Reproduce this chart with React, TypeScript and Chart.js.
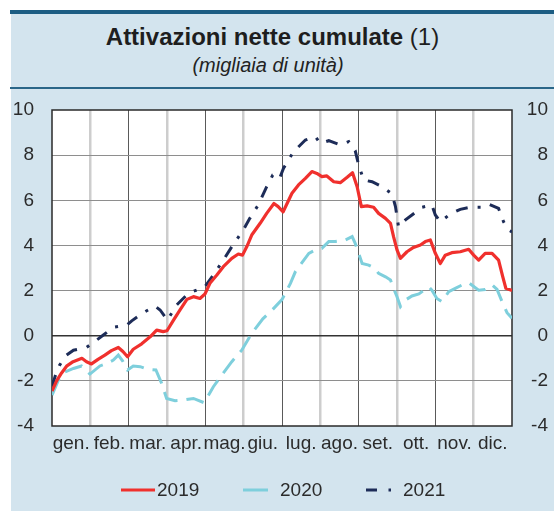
import React, { useEffect, useRef } from 'react';
import { Chart, registerables } from 'chart.js';

Chart.register(...registerables);

// ---- data ----
const months = ['gen.', 'feb.', 'mar.', 'apr.', 'mag.', 'giu.', 'lug.', 'ago.', 'set.', 'ott.', 'nov.', 'dic.'];
const seriesLabels = ['2019', '2020', '2021'];

// x positions in months (0 = start of January, 12 = end of December), values in thousands
const x2019 = [0, 0.12, 0.25, 0.38, 0.55, 0.78, 0.9, 1.03, 1.2, 1.38, 1.55, 1.73, 1.85, 1.97, 2.12, 2.34, 2.56, 2.73, 2.9, 3.0, 3.17, 3.34, 3.52, 3.69, 3.86, 3.99, 4.12, 4.3, 4.47, 4.69, 4.86, 4.97, 5.08, 5.21, 5.43, 5.6, 5.79, 5.9, 6.03, 6.26, 6.43, 6.61, 6.78, 6.91, 7.04, 7.17, 7.35, 7.52, 7.7, 7.84, 7.96, 8.07, 8.22, 8.39, 8.52, 8.7, 8.83, 8.91, 9.0, 9.09, 9.26, 9.43, 9.61, 9.74, 9.87, 10.0, 10.13, 10.26, 10.43, 10.65, 10.87, 11.0, 11.13, 11.3, 11.48, 11.65, 11.76, 11.84, 12.0];
const v2019 = [-2.45, -2.0, -1.65, -1.35, -1.15, -1.0, -1.15, -1.25, -1.05, -0.86, -0.66, -0.52, -0.7, -0.93, -0.6, -0.36, -0.05, 0.25, 0.18, 0.22, 0.69, 1.14, 1.61, 1.73, 1.65, 1.85, 2.32, 2.69, 3.06, 3.43, 3.62, 3.57, 3.94, 4.46, 4.98, 5.42, 5.86, 5.72, 5.49, 6.31, 6.68, 6.97, 7.27, 7.19, 7.05, 7.08, 6.82, 6.78, 7.02, 7.22, 6.6, 5.72, 5.75, 5.69, 5.42, 5.2, 4.98, 4.39, 3.8, 3.43, 3.72, 3.91, 4.02, 4.17, 4.24, 3.65, 3.2, 3.57, 3.68, 3.72, 3.83, 3.57, 3.35, 3.65, 3.65, 3.35, 2.61, 2.1, 2.0];

const x2020 = [0, 0.17, 0.34, 0.56, 0.77, 0.86, 0.99, 1.25, 1.43, 1.6, 1.73, 1.84, 1.97, 2.12, 2.3, 2.51, 2.71, 2.86, 2.99, 3.21, 3.43, 3.69, 3.97, 4.21, 4.43, 4.69, 4.95, 5.21, 5.5, 5.75, 6.0, 6.22, 6.35, 6.7, 6.91, 7.04, 7.22, 7.39, 7.65, 7.83, 7.91, 8.0, 8.09, 8.26, 8.43, 8.52, 8.7, 8.83, 8.91, 9.0, 9.09, 9.22, 9.39, 9.57, 9.83, 9.91, 10.04, 10.17, 10.35, 10.52, 10.7, 10.87, 11.13, 11.3, 11.48, 11.61, 11.74, 11.87, 12.0];
const v2020 = [-2.63, -1.96, -1.6, -1.45, -1.34, -1.49, -1.7, -1.34, -1.23, -1.08, -0.86, -1.11, -1.52, -1.34, -1.37, -1.49, -1.52, -2.11, -2.78, -2.88, -2.85, -2.78, -2.97, -2.26, -1.74, -1.15, -0.64, 0.1, 0.75, 1.15, 1.6, 2.32, 2.84, 3.65, 3.83, 3.87, 4.17, 4.17, 4.24, 4.39, 4.09, 3.65, 3.2, 3.13, 2.98, 2.76, 2.61, 2.47, 2.1, 1.73, 1.29, 1.58, 1.76, 1.85, 2.17, 2.02, 1.65, 1.51, 1.95, 2.1, 2.25, 2.35, 2.02, 2.05, 2.25, 2.05, 1.51, 1.02, 0.77];

const x2021 = [0, 0.1, 0.2, 0.38, 0.56, 0.9, 1.17, 1.34, 1.6, 1.95, 2.08, 2.38, 2.69, 2.82, 3.01, 3.25, 3.56, 3.82, 3.99, 4.21, 4.47, 4.69, 4.99, 5.16, 5.38, 5.58, 5.76, 5.86, 5.95, 6.04, 6.3, 6.61, 6.87, 7.0, 7.22, 7.52, 7.74, 7.91, 8.0, 8.13, 8.35, 8.61, 8.87, 8.96, 9.04, 9.22, 9.39, 9.65, 9.91, 10.0, 10.13, 10.39, 10.65, 10.91, 11.22, 11.39, 11.65, 11.78, 11.91, 12.0];
const v2021 = [-2.25, -1.7, -1.3, -0.86, -0.64, -0.52, -0.19, 0.03, 0.37, 0.47, 0.66, 1.02, 1.31, 1.14, 0.69, 1.36, 1.88, 2.05, 2.17, 2.69, 3.35, 3.94, 4.68, 5.2, 5.79, 6.53, 7.12, 7.19, 7.02, 7.42, 8.15, 8.67, 8.82, 8.52, 8.64, 8.45, 8.6, 8.2, 7.56, 6.9, 6.82, 6.6, 6.28, 5.72, 4.83, 5.13, 5.35, 5.69, 5.79, 5.35, 5.05, 5.39, 5.6, 5.69, 5.69, 5.83, 5.64, 5.05, 4.68, 4.6];

const yMin = -4;
const yMax = 10;
const yStep = 2;

// ---- styles ----
const FONT = "'Liberation Sans', Arial, Helvetica, sans-serif";
const PANEL = '#d3e4ee';
const TOPBAR = '#1c5d83';
const RULE = '#2a6688';
const TEXT = '#2b2b2b';
const RED = '#f0302d';
const CYAN = '#7ecfdc';
const NAVY = '#1d2c58';

const pts = (xs: number[], vs: number[]) => xs.map((x, i) => ({ x, y: vs[i] }));

const areaPlugin = {
  id: 'areaPlugin',
  beforeDraw(chart: any) {
    const { ctx, chartArea: a } = chart;
    ctx.save();
    ctx.fillStyle = '#ffffff';
    ctx.fillRect(a.left, a.top, a.right - a.left, a.bottom - a.top);
    ctx.restore();
  },
  beforeDatasetsDraw(chart: any) {
    const { ctx, chartArea: a } = chart;
    ctx.save();
    ctx.strokeStyle = '#2a2a2a';
    ctx.lineWidth = 1.5;
    ctx.strokeRect(a.left, a.top, a.right - a.left, a.bottom - a.top);
    ctx.restore();
  },
};

const legendPlugin = {
  id: 'customLegend',
  afterDraw(chart: any) {
    const ctx = chart.ctx;
    const y = 490;
    ctx.save();
    ctx.lineWidth = 3;
    ctx.lineCap = 'butt';
    ctx.strokeStyle = RED;
    ctx.setLineDash([]);
    ctx.beginPath(); ctx.moveTo(121, y); ctx.lineTo(155, y); ctx.stroke();
    ctx.strokeStyle = CYAN;
    ctx.beginPath(); ctx.moveTo(243, y); ctx.lineTo(268, y); ctx.stroke();
    ctx.strokeStyle = NAVY;
    ctx.beginPath(); ctx.moveTo(366, y); ctx.lineTo(377, y); ctx.stroke();
    ctx.beginPath(); ctx.moveTo(388.5, y); ctx.lineTo(391, y); ctx.stroke();
    ctx.fillStyle = TEXT;
    ctx.font = `19px ${FONT}`;
    ctx.textBaseline = 'middle';
    ctx.textAlign = 'left';
    ctx.fillText(seriesLabels[0], 157, y + 1);
    ctx.fillText(seriesLabels[1], 280, y + 1);
    ctx.fillText(seriesLabels[2], 403, y + 1);
    ctx.restore();
  },
};

export default function App() {
  const ref = useRef<HTMLCanvasElement | null>(null);

  useEffect(() => {
    if (!ref.current) return;
    const tickFont = { family: FONT, size: 19 };
    const chart = new Chart(ref.current, {
      type: 'line',
      data: {
        datasets: [
          {
            label: seriesLabels[0],
            data: pts(x2019, v2019),
            borderColor: RED,
            borderWidth: 3.2,
            pointRadius: 0,
            tension: 0,
            borderJoinStyle: 'round',
            xAxisID: 'x',
            yAxisID: 'y',
          },
          {
            label: seriesLabels[1],
            data: pts(x2020, v2020),
            borderColor: CYAN,
            borderWidth: 3,
            borderDash: [18, 9],
            pointRadius: 0,
            tension: 0,
            xAxisID: 'x',
            yAxisID: 'y',
          },
          {
            label: seriesLabels[2],
            data: pts(x2021, v2021),
            borderColor: NAVY,
            borderWidth: 3,
            borderDash: [12, 10, 3, 10],
            pointRadius: 0,
            tension: 0,
            xAxisID: 'x',
            yAxisID: 'y',
          },
        ],
      },
      options: {
        animation: false,
        responsive: false,
        maintainAspectRatio: false,
        devicePixelRatio: 1,
        layout: { padding: { left: 0, right: 6, top: 110, bottom: 55 } },
        plugins: { legend: { display: false }, tooltip: { enabled: false }, title: { display: false } },
        scales: {
          x: {
            type: 'linear',
            min: 0,
            max: 12,
            position: 'bottom',
            afterBuildTicks: (s: any) => {
              s.ticks = months.map((_, i) => ({ value: i })).concat([{ value: 12 }]);
            },
            ticks: { display: false },
            border: { display: false },
            grid: {
              drawTicks: false,
              color: (c: any) => (c.tick && c.tick.value % 2 === 1 ? '#cdcdcd' : '#5a5a5a'),
              lineWidth: (c: any) => {
                const v = c.tick ? c.tick.value : 0;
                if (v === 0 || v === 12) return 0;
                return v % 2 === 1 ? 2.5 : 1;
              },
            },
            afterFit: (s: any) => {
              s.height = 0;
            },
          },
          xm: {
            type: 'category',
            labels: months,
            offset: true,
            position: 'bottom',
            grid: { display: false, drawTicks: false },
            border: { display: false },
            ticks: { font: tickFont, color: TEXT, padding: 6, maxRotation: 0, autoSkip: false },
            afterFit: (s: any) => {
              s.height = 30;
            },
          },
          y: {
            type: 'linear',
            position: 'left',
            min: yMin,
            max: yMax,
            ticks: { stepSize: yStep, font: tickFont, color: TEXT, padding: 18 },
            border: { display: false },
            grid: {
              drawTicks: false,
              color: (c: any) => (c.tick && c.tick.value === 0 ? '#333333' : '#8e8e8e'),
              lineWidth: (c: any) => {
                const v = c.tick ? c.tick.value : 0;
                if (v === yMin || v === yMax) return 0;
                return v === 0 ? 1.6 : 1;
              },
            },
            afterFit: (s: any) => {
              s.width = 52;
            },
          },
          y2: {
            type: 'linear',
            position: 'right',
            min: yMin,
            max: yMax,
            ticks: { stepSize: yStep, font: tickFont, color: TEXT, padding: 14, crossAlign: 'far' },
            border: { display: false },
            grid: { display: false, drawTicks: false },
            afterFit: (s: any) => {
              s.width = 36;
            },
          },
        },
      },
      plugins: [areaPlugin, legendPlugin],
    } as any);
    return () => chart.destroy();
  }, []);

  return (
    <div style={{ position: 'absolute', left: 0, top: 0, width: 554, height: 511, background: '#ffffff', overflow: 'hidden' }}>
      <div style={{ position: 'absolute', left: 11, top: 10, width: 543, height: 501, background: PANEL }} />
      <div style={{ position: 'absolute', left: 10, top: 10, width: 544, height: 4, background: TOPBAR }} />
      <div style={{ position: 'absolute', left: 10, top: 87, width: 544, height: 2, background: RULE }} />
      <div
        style={{
          position: 'absolute',
          left: 0,
          top: 23,
          width: 545,
          textAlign: 'center',
          fontFamily: FONT,
          fontWeight: 'bold',
          fontSize: 24,
          lineHeight: '27px',
          color: '#1e1e1e',
          whiteSpace: 'nowrap',
        }}
      >
        Attivazioni nette cumulate <span style={{ fontWeight: 'normal' }}>(1)</span>
      </div>
      <div
        style={{
          position: 'absolute',
          left: 0,
          top: 54,
          width: 536,
          textAlign: 'center',
          fontFamily: FONT,
          fontStyle: 'italic',
          fontSize: 20,
          lineHeight: '22px',
          color: '#222222',
          whiteSpace: 'nowrap',
        }}
      >
        (migliaia di unità)
      </div>
      <canvas
        ref={ref}
        width={554}
        height={511}
        style={{ position: 'absolute', left: 0, top: 0, width: 554, height: 511 }}
      />
    </div>
  );
}
